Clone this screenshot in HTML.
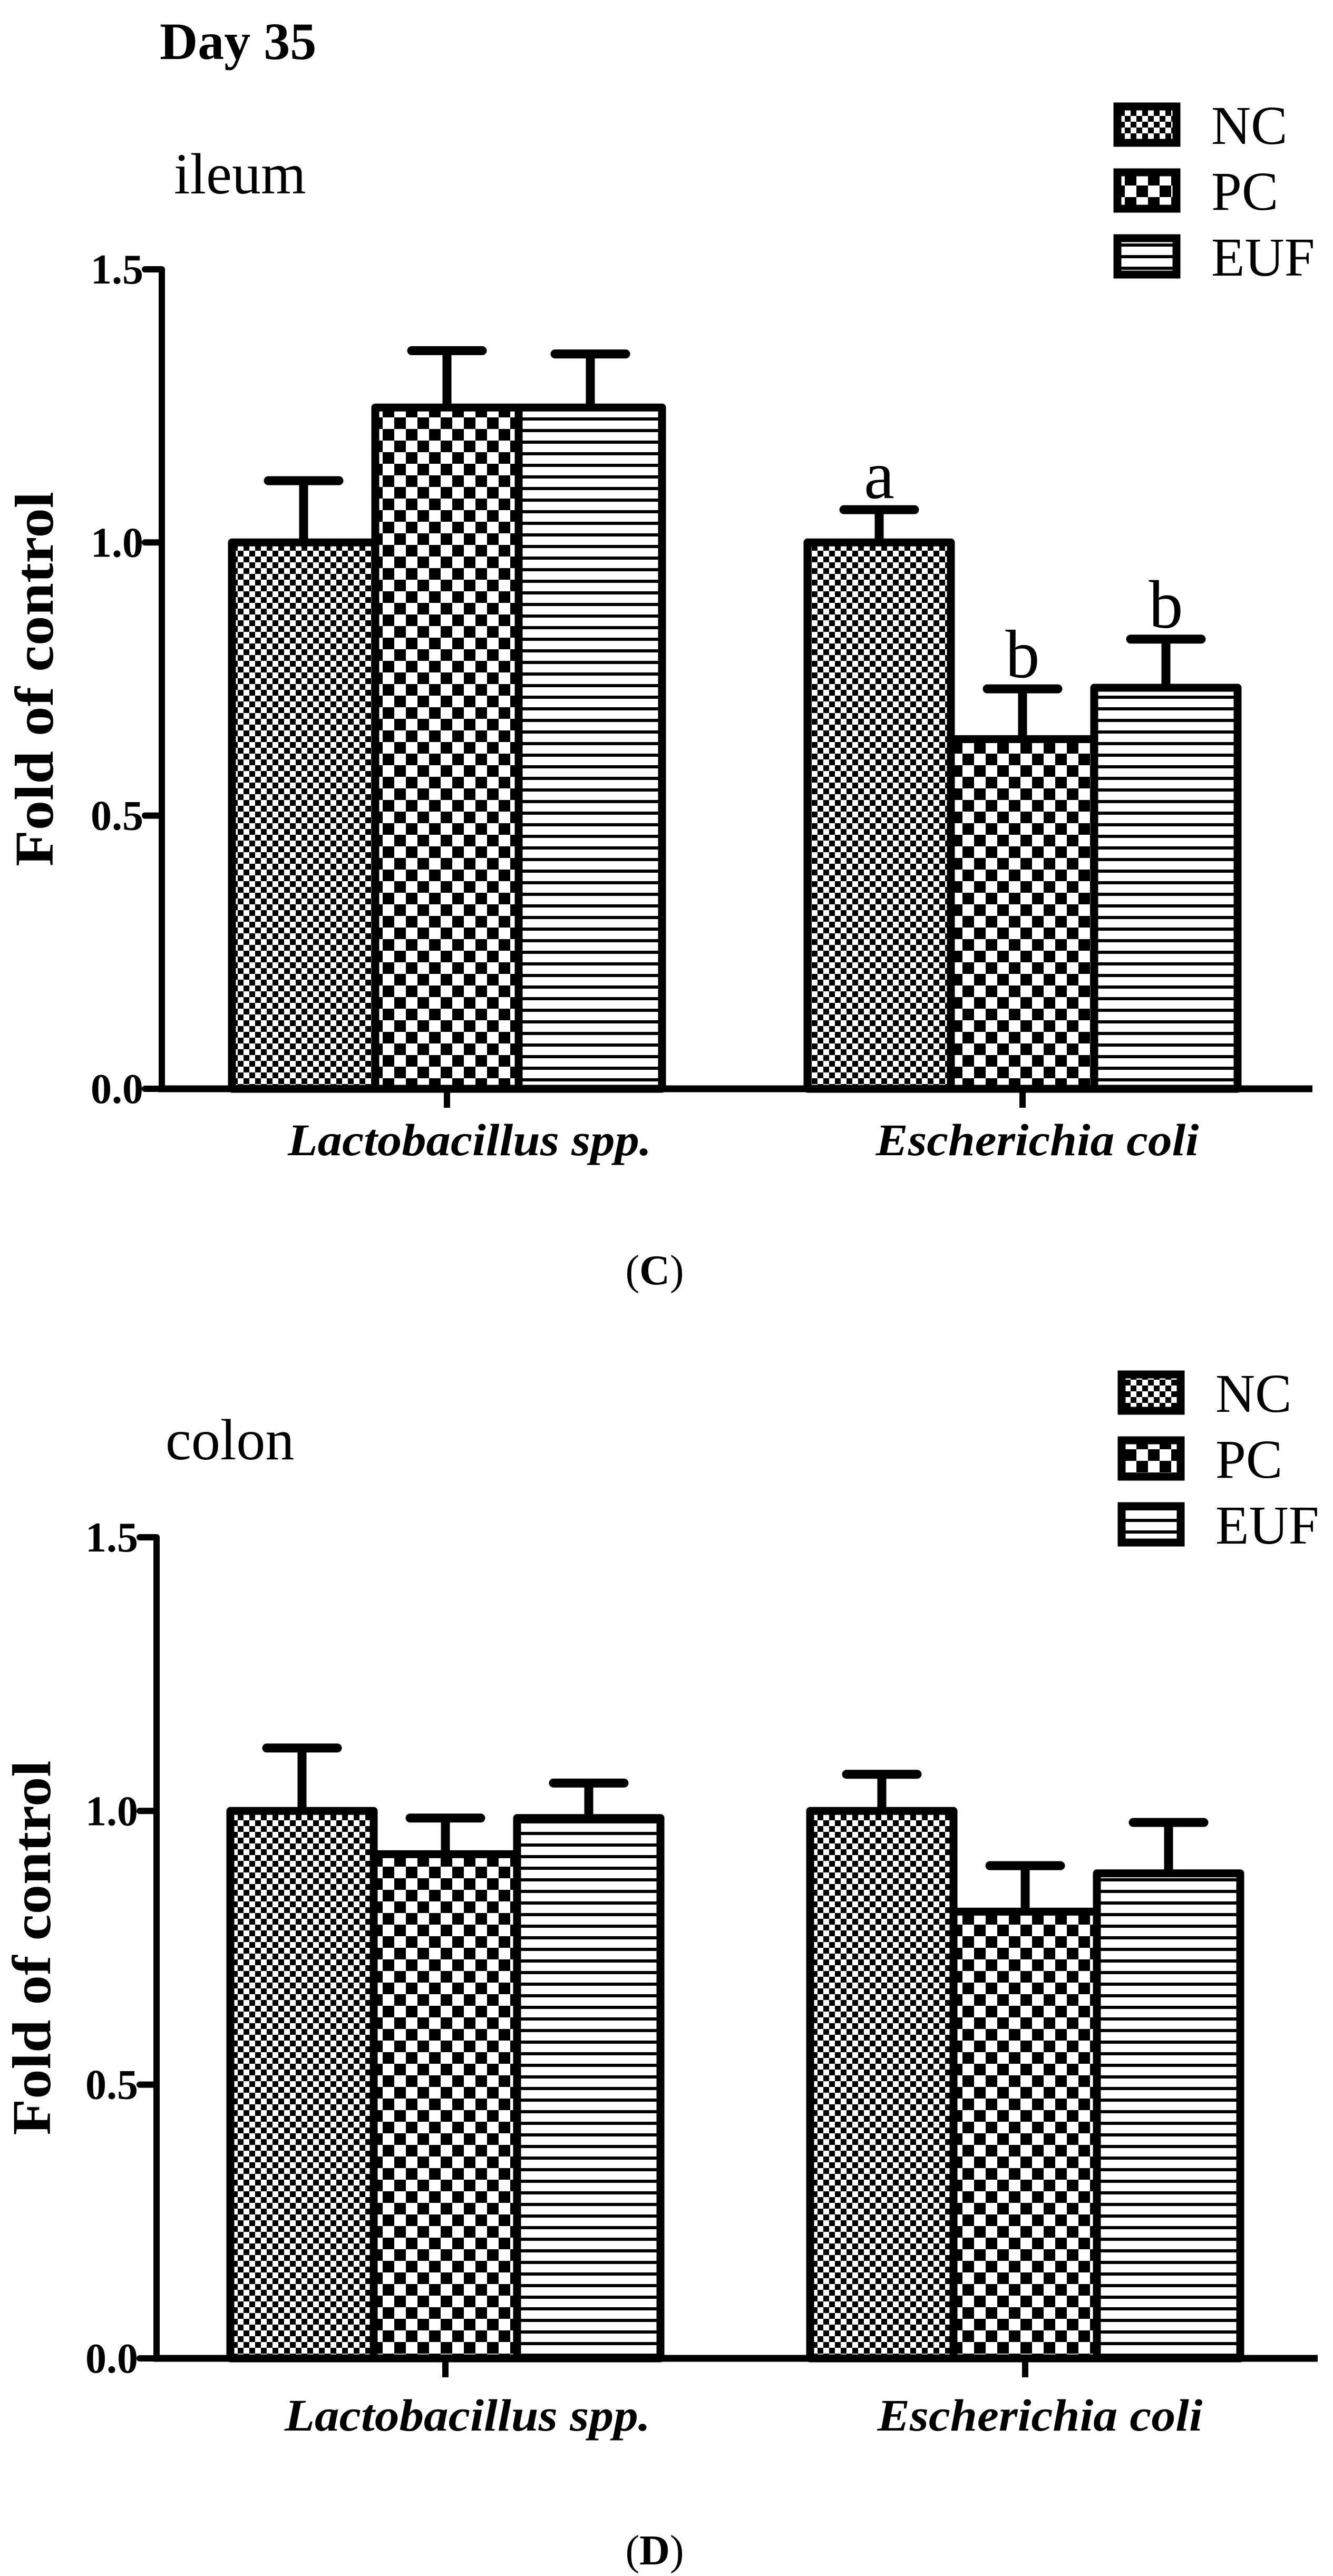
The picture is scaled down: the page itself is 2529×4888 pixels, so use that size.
<!DOCTYPE html>
<html><head><meta charset="utf-8"><style>
html,body{margin:0;padding:0;background:#fff;}
svg{display:block;}
text{font-family:"Liberation Serif",serif;fill:#000;}
</style></head>
<body>
<svg id="fig" width="2529" height="4888" viewBox="0 0 2529 4888" xmlns="http://www.w3.org/2000/svg">
<defs>
<pattern id="pNC" patternUnits="userSpaceOnUse" width="22" height="22"><rect width="22" height="22" fill="#fff"/><rect width="11" height="11" fill="#000"/><rect x="11" y="11" width="11" height="11" fill="#000"/></pattern>
<pattern id="pPC" patternUnits="userSpaceOnUse" width="44" height="44"><rect width="44" height="44" fill="#fff"/><rect width="22" height="22" fill="#000"/><rect x="22" y="22" width="22" height="22" fill="#000"/></pattern>
<pattern id="pEUF" patternUnits="userSpaceOnUse" width="22" height="22"><rect width="22" height="22" fill="#fff"/><rect y="0" width="22" height="6" fill="#000"/></pattern>
</defs>
<text x="303" y="112" font-size="100" font-weight="bold">Day 35</text>
<g id="chartC"></g>
<g id="chartD"></g>
</svg>
<script>
const categories = ["Lactobacillus spp.", "Escherichia coli"];
const series = ["NC", "PC", "EUF"];
const yTicks = [0.0, 0.5, 1.0, 1.5];
const yTickLabels = ["0.0", "0.5", "1.0", "1.5"];
// ileum (C)
const ileumNC = [1.0, 1.0];
const ileumPC = [1.247, 0.64];
const ileumEUF = [1.247, 0.734];
const ileumNCerr = [0.113, 0.06];
const ileumPCerr = [0.104, 0.092];
const ileumEUFerr = [0.098, 0.089];
const ileumLetters = [["", "", ""], ["a", "b", "b"]];
// colon (D)
const colonNC = [1.0, 1.0];
const colonPC = [0.921, 0.816];
const colonEUF = [0.987, 0.886];
const colonNCerr = [0.115, 0.067];
const colonPCerr = [0.066, 0.084];
const colonEUFerr = [0.064, 0.093];

const NS = "http://www.w3.org/2000/svg";
function mk(parent, tag, attrs, txt) {
  const e = document.createElementNS(NS, tag);
  for (const k in attrs) e.setAttribute(k, attrs[k]);
  if (txt !== undefined) e.textContent = txt;
  parent.appendChild(e);
  return e;
}

function drawChart(g, cfg, vals, errs, letters) {
  const yS = v => cfg.y0 - v * cfg.ppu;
  const xCenter = i => cfg.groupCenters[i];
  const barW = 272;
  const fills = ["url(#pNC)", "url(#pPC)", "url(#pEUF)"];

  // bars
  categories.forEach((c, ci) => {
    series.forEach((s, si) => {
      const v = vals[si][ci];
      const x = xCenter(ci) + (si - 1) * barW - barW / 2;
      const r = mk(g, "rect", {x: x, y: yS(v), width: barW, height: yS(0) - yS(v), fill: fills[si], stroke: "#000", "stroke-width": 15, "stroke-linejoin": "round"});
      
      
      const cx = x + barW / 2;
      const top = v + errs[si][ci];
      const eb = mk(g, "g", {});
      
      
      mk(eb, "line", {x1: cx, x2: cx, y1: yS(v) - 7, y2: yS(top), stroke: "#000", "stroke-width": 17});
      mk(eb, "line", {x1: cx - 67, x2: cx + 67, y1: yS(top), y2: yS(top), stroke: "#000", "stroke-width": 17, "stroke-linecap": "round"});
      if (letters && letters[ci][si]) {
        const t = mk(g, "text", {x: cx, y: yS(top) - 22, "font-size": 130, "text-anchor": "middle"}, letters[ci][si]);
        
        
      }
    });
  });

  // axes
  const ya = mk(g, "line", {x1: cfg.ax, x2: cfg.ax, y1: yS(1.5), y2: cfg.y0 + 6, stroke: "#000", "stroke-width": 12});
  
  
  const xa = mk(g, "line", {x1: cfg.ax - 6, x2: cfg.xEnd, y1: cfg.y0, y2: cfg.y0, stroke: "#000", "stroke-width": 13});
  
  
  yTicks.forEach((t, i) => {
    mk(g, "line", {x1: cfg.ax - 32, x2: cfg.ax, y1: yS(t), y2: yS(t), stroke: "#000", "stroke-width": 12, "stroke-linecap": "round"});
    const lb = mk(g, "text", {x: cfg.ax - 35, y: yS(t) + 27, "font-size": 80, "font-weight": "bold", "text-anchor": "end"}, yTickLabels[i]);
    
    
  });
  categories.forEach((c, ci) => {
    mk(g, "line", {x1: xCenter(ci), x2: xCenter(ci), y1: cfg.y0, y2: cfg.y0 + 36, stroke: "#000", "stroke-width": 12});
    const lb = mk(g, "text", {x: cfg.labelX[ci], y: cfg.labelY, "font-size": 86, "font-weight": "bold", "font-style": "italic", "text-anchor": "middle", textLength: cfg.labelW[ci], lengthAdjust: "spacingAndGlyphs"}, c);
    
    
  });
  const yt = mk(g, "text", {x: 0, y: 0, "font-size": 104, "font-weight": "bold", "text-anchor": "middle", textLength: 711, lengthAdjust: "spacingAndGlyphs", transform: "translate(" + cfg.titleX + "," + ((yS(1.5) + cfg.y0) / 2) + ") rotate(-90)"}, "Fold of control");
  
  

  const pt = mk(g, "text", {x: cfg.panelX, y: cfg.panelY, "font-size": 110}, cfg.panel);
  
  

  // legend
  series.forEach((s, si) => {
    const lg = mk(g, "g", {});
    
    
    const by = cfg.legY + si * 125;
    mk(lg, "rect", {x: cfg.legX + 7, y: by + 7, width: 112, height: 69, fill: fills[si], stroke: "#000", "stroke-width": 15});
    mk(lg, "text", {x: cfg.legX + 185, y: by + 78, "font-size": 104}, s);
  });

  const cap = mk(g, "text", {x: 1242, y: cfg.capY, "font-size": 80, "text-anchor": "middle"}, "");
  
  
  mk(cap, "tspan", {}, "(");
  mk(cap, "tspan", {"font-weight": "bold"}, cfg.capLetter);
  mk(cap, "tspan", {}, ")");
}

drawChart(document.getElementById("chartC"),
  {ax: 307, y0: 2066, ppu: 1036.7, xEnd: 2490, groupCenters: [848, 1940],
   labelX: [891, 1968], labelW: [690, 613], labelY: 2192, titleX: 100,
   panel: "ileum", panelX: 330, panelY: 367, legX: 2113, legY: 195, capY: 2437, capLetter: "C"},
  [ileumNC, ileumPC, ileumEUF], [ileumNCerr, ileumPCerr, ileumEUFerr], ileumLetters);

drawChart(document.getElementById("chartD"),
  {ax: 297, y0: 4475, ppu: 1038.7, xEnd: 2500, groupCenters: [845, 1945],
   labelX: [887, 1973], labelW: [694, 617], labelY: 4612, titleX: 95,
   panel: "colon", panelX: 314, panelY: 2769, legX: 2121, legY: 2601, capY: 4866, capLetter: "D"},
  [colonNC, colonPC, colonEUF], [colonNCerr, colonPCerr, colonEUFerr], null);
</script>
</body></html>
